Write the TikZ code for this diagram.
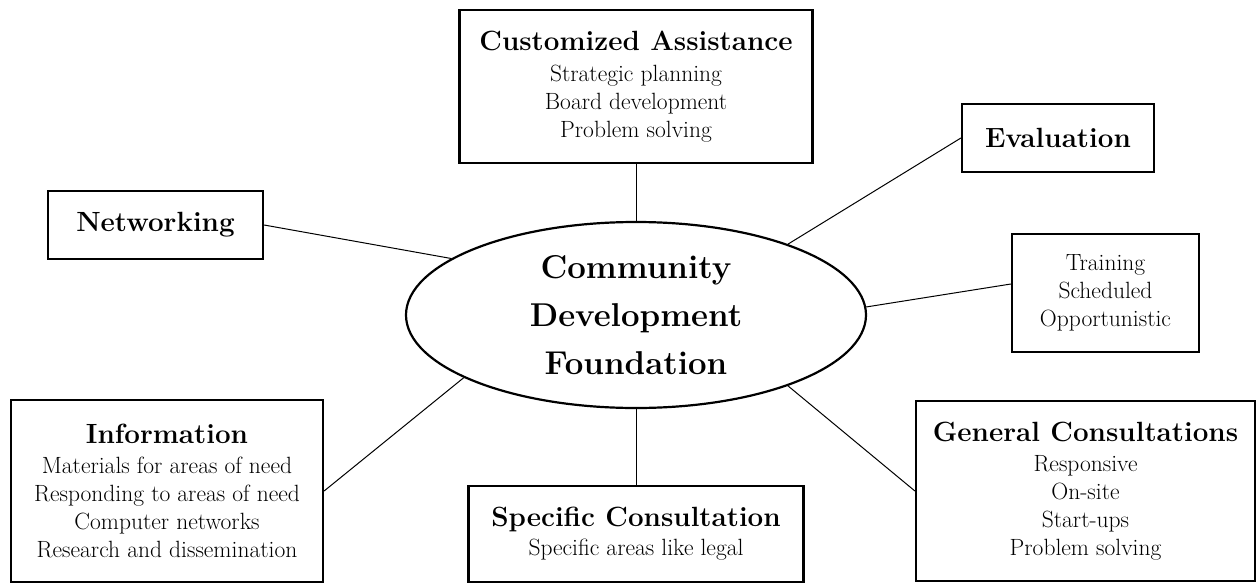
\documentclass[tikz,border=0pt]{standalone}
\usepackage{fontspec}
\usetikzlibrary{shapes.geometric,calc}
\newcommand\titlef{\fontsize{27.8}{28}\selectfont\bfseries}
\newcommand\bodyf{\fontsize{23.5}{28}\selectfont}
\newcommand\centf{\fontsize{33}{48}\selectfont\bfseries}
\begin{document}
\begin{tikzpicture}[x=1pt,y=-1pt,
  box/.style={draw, line width=2.2pt, align=center, inner sep=0pt, font=\bodyf},
  link/.style={line width=1pt}]
\useasboundingbox (0,0) rectangle (1257,583);
\node[box, minimum width=353pt, minimum height=153pt] (cust) at (636,86.5)
  {{\titlef Customized Assistance}\\[3pt]Strategic planning\\Board development\\Problem solving};
\node[box, minimum width=192pt, minimum height=68pt] (eval) at (1058,138)
  {\titlef Evaluation};
\node[box, minimum width=187pt, minimum height=118pt] (train) at (1105.5,293)
  {Training\\Scheduled\\Opportunistic};
\node[box, minimum width=339pt, minimum height=180pt] (gen) at (1085.5,491)
  {{\titlef General Consultations}\\[2pt]Responsive\\On-site\\Start-ups\\Problem solving};
\node[box, minimum width=335pt, minimum height=96pt] (spec) at (636,534)
  {{\titlef Specific Consultation}\\[1pt]Specific areas like legal};
\node[box, minimum width=312pt, minimum height=182pt] (info) at (167,491)
  {{\titlef Information}\\[2pt]Materials for areas of need\\Responding to areas of need\\Computer networks\\Research and dissemination};
\node[box, minimum width=215pt, minimum height=68pt] (net) at (155.5,225)
  {\titlef Networking};
\node[ellipse, draw, line width=2.2pt, minimum width=460pt, minimum height=186pt,
  inner sep=0pt, align=center, font=\centf] (cdf) at (636,315)
  {Community\\Development\\Foundation};
\draw[link] (cust.south) -- (cdf.north);
\draw[link] (spec.north) -- (cdf.south);
\draw[link] (cdf.25) -- (eval.west);
\draw[link] (cdf.2) -- ($(train.west)+(0,-9)$);
\draw[link] (cdf.-25) -- (gen.west);
\draw[link] (cdf.200) -- (info.east);
\draw[link] (cdf.163) -- (net.east);
\end{tikzpicture}
\end{document}
